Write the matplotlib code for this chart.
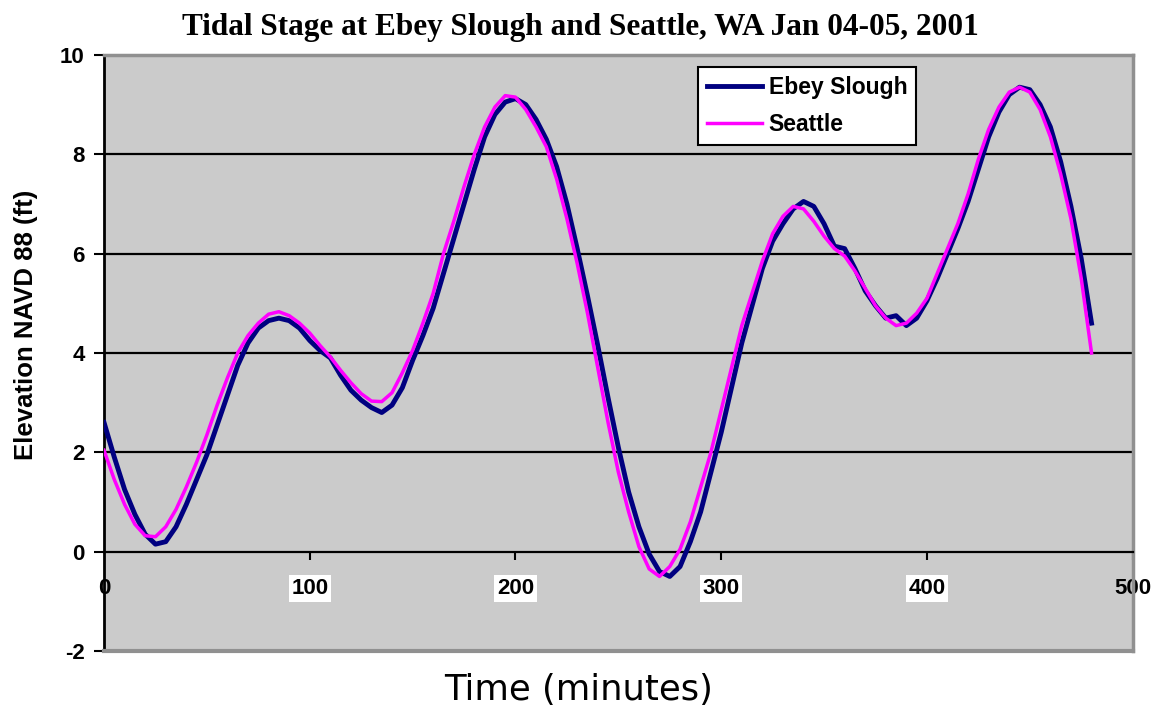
import matplotlib.pyplot as plt
import numpy as np

# minutes, every 5 min
time_min = list(range(0, 481, 5))

ebey_slough = [2.6, 1.9, 1.25, 0.75, 0.35, 0.15, 0.2, 0.5, 0.95, 1.45,
               1.95, 2.55, 3.15, 3.75, 4.2, 4.5, 4.65, 4.7, 4.65, 4.5,
               4.25, 4.05, 3.9, 3.55, 3.25, 3.05, 2.9, 2.8, 2.95, 3.3,
               3.85, 4.35, 4.9, 5.6, 6.3, 7.0, 7.7, 8.35, 8.8, 9.05,
               9.12, 9.0, 8.7, 8.3, 7.75, 7.0, 6.1, 5.15, 4.15, 3.1,
               2.1, 1.2, 0.5, -0.05, -0.4, -0.5, -0.3, 0.2, 0.8, 1.6,
               2.4, 3.3, 4.2, 4.95, 5.7, 6.25, 6.6, 6.9, 7.05, 6.95,
               6.6, 6.15, 6.1, 5.7, 5.25, 4.95, 4.7, 4.75, 4.55, 4.7,
               5.05, 5.5, 6.0, 6.5, 7.05, 7.7, 8.35, 8.85, 9.2, 9.35,
               9.3, 9.0, 8.55, 7.85, 6.95, 5.9, 4.6]

seattle = [2.04, 1.45, 0.95, 0.55, 0.32, 0.3, 0.5, 0.85, 1.3, 1.8,
           2.35, 2.95, 3.5, 4.0, 4.35, 4.6, 4.78, 4.83, 4.75, 4.6,
           4.4, 4.15, 3.92, 3.65, 3.4, 3.18, 3.03, 3.02, 3.2, 3.6,
           4.05, 4.6, 5.2, 6.0, 6.65, 7.35, 8.0, 8.55, 8.95, 9.18,
           9.15, 8.9, 8.55, 8.15, 7.5, 6.7, 5.8, 4.8, 3.7, 2.6,
           1.6, 0.8, 0.1, -0.35, -0.5, -0.3, 0.05, 0.6, 1.3, 2.0,
           2.85, 3.7, 4.55, 5.2, 5.85, 6.4, 6.75, 6.95, 6.9, 6.65,
           6.35, 6.1, 5.95, 5.65, 5.3, 4.95, 4.7, 4.55, 4.6, 4.8,
           5.1, 5.6, 6.1, 6.6, 7.2, 7.9, 8.5, 8.95, 9.25, 9.35,
           9.25, 8.9, 8.35, 7.6, 6.7, 5.5, 4.0]

x_ticks = [0, 100, 200, 300, 400, 500]
y_ticks = [-2, 0, 2, 4, 6, 8, 10]

plt.rcParams['font.family'] = ['Liberation Sans', 'DejaVu Sans']
plt.rcParams['axes.unicode_minus'] = False

fig = plt.figure(figsize=(11.61, 7.13), dpi=100)
ax = fig.add_axes([0.0896, 0.087, 0.886, 0.836])
ax.set_facecolor('#cbcbcb')

ax.set_xlim(0, 500)
ax.set_ylim(-2, 10)

# horizontal grid lines
for yv in [2, 4, 6, 8]:
    ax.axhline(yv, color='black', lw=1.6, zorder=1)

ax.plot(time_min, ebey_slough, color='#000080', lw=3.5, label='Ebey Slough', zorder=3)
ax.plot(time_min, seattle, color='#ff00ff', lw=2.5, label='Seattle', zorder=4)

# frame: x axis crosses at 0, gray border around plot area
ax.spines['bottom'].set_position(('data', 0))
ax.spines['bottom'].set_color('black')
ax.spines['bottom'].set_linewidth(1.6)
ax.spines['left'].set_color('black')
ax.spines['left'].set_linewidth(2)
for s in ['top', 'right']:
    ax.spines[s].set_color('#909090')
    ax.spines[s].set_linewidth(2.5)
ax.axhline(-2, color='#909090', lw=3, clip_on=False, zorder=5)

ax.set_xticks(x_ticks)
ax.set_xticklabels([str(v) for v in x_ticks])
ax.tick_params(axis='x', direction='out', length=6, width=1.5, pad=13, labelsize=16)
for lbl in ax.get_xticklabels():
    lbl.set_fontweight('bold')
for lbl in ax.get_xticklabels()[1:-1]:
    lbl.set_bbox(dict(facecolor='white', edgecolor='none', pad=2))
ax.xaxis.get_major_ticks()[0].tick1line.set_visible(False)

ax.set_yticks(y_ticks)
ax.tick_params(axis='y', direction='out', length=7, width=1.5, pad=7, labelsize=16)
for lbl in ax.get_yticklabels():
    lbl.set_fontweight('bold')

ax.set_ylabel('Elevation NAVD 88 (ft)', fontsize=18.5, fontweight='bold')
ax.yaxis.set_label_coords(-0.064, 0.547)

fig.text(0.4987, 0.032, 'Time (minutes)', ha='center', va='center', fontsize=25.5,
         family=['DejaVu Sans'])
fig.suptitle('Tidal Stage at Ebey Slough and Seattle, WA Jan 04-05, 2001',
             x=0.5, y=0.982, fontsize=22.5, fontweight='bold', family=['Liberation Serif'])

leg = ax.legend(loc='upper left', bbox_to_anchor=(0.577, 0.98),
                prop={'size': 16.5, 'weight': 'bold'},
                frameon=True, fancybox=False, borderpad=0.4, labelspacing=0.6,
                handlelength=2.4, handletextpad=0.3, borderaxespad=0)
leg.get_frame().set_edgecolor('black')
leg.get_frame().set_linewidth(1.5)
leg.get_frame().set_facecolor('white')
leg.get_frame().set_alpha(1)

fig.savefig('out.png', dpi=100)
